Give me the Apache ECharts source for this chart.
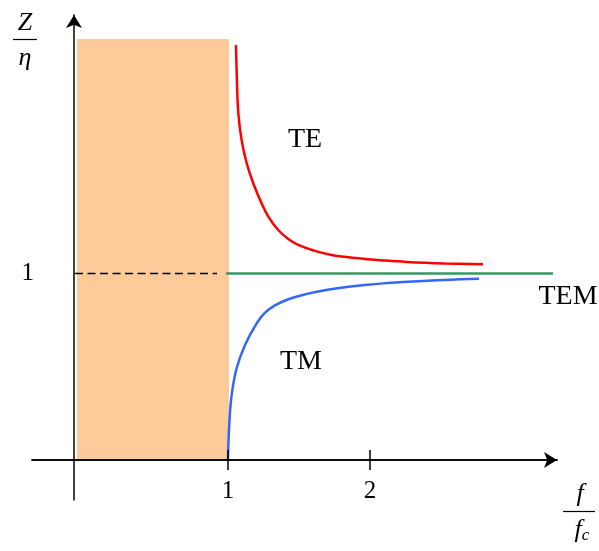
<!DOCTYPE html>
<html>
<head>
<meta charset="utf-8">
<script src="https://cdn.jsdelivr.net/npm/echarts@6/dist/echarts.min.js"></script>
<style>html,body{margin:0;padding:0;background:#fff}#c{width:599px;height:551px}</style>
</head>
<body>
<div id="c"></div>
<script>
// ---- data (x = f/fc, y = Z/eta) ----
var xTicks = [1, 2];
var yTicks = [1];
var teCurve = [[1.056,2.225],[1.063,2.038],[1.073,1.859],[1.096,1.716],[1.132,1.591],[1.178,1.484],[1.237,1.376],[1.284,1.305],[1.354,1.233],[1.425,1.185],[1.495,1.153],[1.613,1.121],[1.730,1.099],[1.847,1.087],[1.965,1.078],[2.094,1.070],[2.261,1.062],[2.528,1.054],[2.796,1.049]];
var tmCurve = [[1.0,0],[1.009,0.188],[1.026,0.349],[1.061,0.492],[1.120,0.617],[1.202,0.733],[1.261,0.790],[1.331,0.829],[1.425,0.862],[1.542,0.888],[1.683,0.910],[1.824,0.926],[1.965,0.938],[2.094,0.947],[2.232,0.954],[2.373,0.960],[2.570,0.967],[2.768,0.972]];
var temLine = [[0.986,1],[3.289,1]];
var cutoffDash = [[-0.077,1],[0.923,1]];
var evanescentRegion = [[-0.063,0],[1.007,2.257]];
var labels = {te:'TE', tm:'TM', tem:'TEM', region:'região\nevanescente'};

var serif = 'Liberation Serif';
var chart = echarts.init(document.getElementById('c'), null, {renderer:'canvas'});
var option = {
  animation:false,
  grid:{left:32, right:42, top:15, bottom:51, outerBoundsMode:'none', containLabel:false},
  xAxis:[
    {type:'value', position:'bottom', min:-0.380, max:3.317, z:5,
     axisLine:{show:true, onZero:true, onZeroAxisIndex:0, symbol:['none','arrow'], symbolSize:[12,13], lineStyle:{color:'#000', width:1.5}},
     axisTick:{show:true, customValues:xTicks, length:10, lineStyle:{color:'#000', width:1.5}},
     axisLabel:{show:true, customValues:xTicks, margin:-21, fontFamily:serif, fontSize:25, color:'#000'},
     splitLine:{show:false}},
    {type:'value', position:'bottom', min:-0.380, max:3.317, z:5,
     axisLine:{show:true, onZero:true, onZeroAxisIndex:1, lineStyle:{color:'#000', width:1.5}},
     axisTick:{show:true, inside:true, customValues:xTicks, length:10, lineStyle:{color:'#000', width:1.5}},
     axisLabel:{show:false}, splitLine:{show:false}},
    {type:'value', min:-42, max:483, show:false}
  ],
  yAxis:[
    {type:'value', min:-0.2145, max:2.386, z:5,
     axisLine:{show:true, onZero:true, onZeroAxisIndex:2, symbol:['none','arrow'], symbolSize:[12,13], lineStyle:{color:'#000', width:1.5}},
     axisTick:{show:false},
     axisLabel:{show:true, customValues:yTicks, margin:-2, fontFamily:serif, fontSize:25, color:'#000'},
     splitLine:{show:false}},
    {type:'value', min:-0.2145, max:2.386, show:false}
  ],
  series:[
    {type:'line', data:[], z:0,
     markArea:{silent:true, itemStyle:{color:'#fdcb99'},
       data:[[{xAxis:evanescentRegion[0][0], yAxis:evanescentRegion[0][1]},{xAxis:evanescentRegion[1][0], yAxis:evanescentRegion[1][1]}]]}},
    {type:'line', data:cutoffDash, symbol:'none', z:3, lineStyle:{color:'#000', width:1.5, type:[8,4.5]}},
    {type:'line', data:temLine, symbol:'none', z:3, lineStyle:{color:'#339966', width:2.5}},
    {type:'line', data:teCurve, symbol:'none', smooth:0.4, z:3, lineStyle:{color:'#ff0000', width:2.5}},
    {type:'line', data:tmCurve, symbol:'none', smooth:0.4, z:3, lineStyle:{color:'#3366ff', width:2.5}}
  ],
  graphic:[
    {type:'text', x:305, y:140, style:{text:labels.te, font:'28px "Liberation Serif"', fill:'#000', align:'center', verticalAlign:'middle'}},
    {type:'text', x:301, y:362, style:{text:labels.tm, font:'28px "Liberation Serif"', fill:'#000', align:'center', verticalAlign:'middle'}},
    {type:'text', x:568, y:297, style:{text:labels.tem, font:'28px "Liberation Serif"', fill:'#000', align:'center', verticalAlign:'middle'}},
    {type:'text', x:150, y:341, style:{text:labels.region, font:'28px "Liberation Serif"', lineHeight:34, fill:'#000', align:'center', verticalAlign:'middle'}},
    {type:'text', x:25, y:23, style:{text:'Z', font:'italic 26px "Liberation Serif"', fill:'#000', align:'center', verticalAlign:'middle'}},
    {type:'line', shape:{x1:13, y1:39.5, x2:37, y2:39.5}, style:{stroke:'#000', lineWidth:1.2}},
    {type:'text', x:25, y:58, style:{text:'η', font:'italic 26px "Liberation Serif"', fill:'#000', align:'center', verticalAlign:'middle'}},
    {type:'text', x:580, y:494, style:{text:'f', font:'italic 26px "Liberation Serif"', fill:'#000', align:'center', verticalAlign:'middle'}},
    {type:'line', shape:{x1:563, y1:511.5, x2:595, y2:511.5}, style:{stroke:'#000', lineWidth:1.2}},
    {type:'text', x:582, y:530, style:{text:'{f|f}{s|c}', align:'center', verticalAlign:'middle', fill:'#000',
      rich:{f:{font:'italic 26px "Liberation Serif"'}, s:{font:'italic 17px "Liberation Serif"', padding:[12,0,0,0]}}}}
  ]
};
chart.setOption(option);
</script>
</body>
</html>
